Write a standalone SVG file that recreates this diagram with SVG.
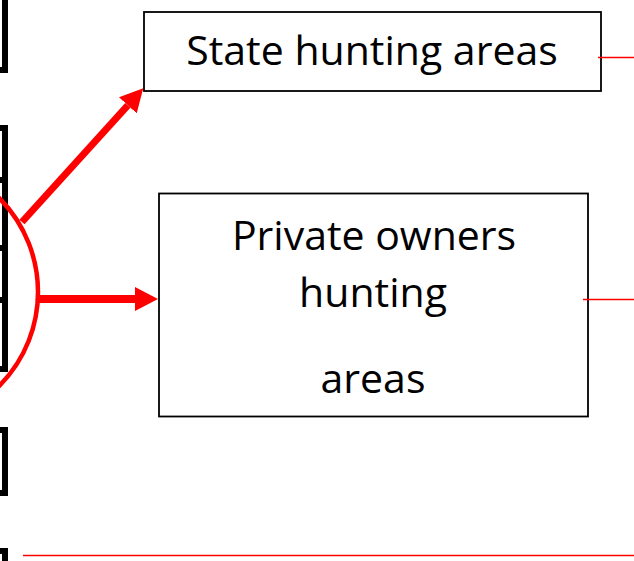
<svg xmlns="http://www.w3.org/2000/svg" width="634" height="561" viewBox="0 0 634 561">
  <style>
    .edge { fill: #ffffff; stroke: #000000; stroke-width: 6; }
    .box { fill: #ffffff; stroke: #000000; stroke-width: 1.8; }
    .lbl { font-family: "Open Sans", "Noto Sans", "Liberation Sans", sans-serif; font-size: 41px; fill: #000000; text-anchor: middle; }
    .thick { stroke: #ff0000; fill: none; }
    .thin { stroke: #ff0000; stroke-width: 1.6; fill: none; }
  </style>
  <defs>
    <marker id="head" markerUnits="userSpaceOnUse" markerWidth="24" markerHeight="24" refX="0" refY="12" orient="auto" viewBox="0 0 24 24">
      <path d="M0,0 L23,12 L0,24 Z" fill="#ff0000"/>
    </marker>
  </defs>
  <rect width="634" height="561" fill="#ffffff"/>

  <!-- partially visible boxes at the left edge -->
  <g id="left-boxes">
    <rect class="edge" x="-60" y="-20" width="65" height="90"/>
    <rect class="edge" x="-60" y="128" width="65" height="52"/>
    <rect class="edge" x="-60" y="180" width="65" height="68"/>
    <rect class="edge" x="-60" y="248" width="65" height="52"/>
    <rect class="edge" x="-60" y="300" width="65" height="69"/>
    <rect class="edge" x="-60" y="430" width="65" height="63"/>
    <rect class="edge" x="-60" y="551" width="65" height="40"/>
  </g>

  <g id="node-circle">
    <circle cx="-95" cy="292" r="133" fill="none" stroke="#ff0000" stroke-width="4.5"/>
  </g>

  <g id="node-state">
    <rect class="box" x="144" y="12" width="457" height="79"/>
    <text class="lbl" x="372" y="65">State hunting areas</text>
  </g>

  <g id="node-private">
    <rect class="box" x="159" y="193.5" width="429" height="223"/>
    <text class="lbl" x="374" y="250">Private owners</text>
    <text class="lbl" x="373" y="307">hunting</text>
    <text class="lbl" x="373" y="393">areas</text>
  </g>

  <g id="connectors">
    <line class="thick" x1="22" y1="222" x2="127.8" y2="105.3" stroke-width="7" marker-end="url(#head)"/>
    <line class="thick" x1="38" y1="299" x2="135" y2="299" stroke-width="8" marker-end="url(#head)"/>
    <line class="thin" x1="598" y1="57.5" x2="634" y2="57.5"/>
    <line class="thin" x1="583" y1="299.5" x2="634" y2="299.5"/>
    <line class="thin" x1="23" y1="555.5" x2="634" y2="555.5"/>
  </g>
</svg>
